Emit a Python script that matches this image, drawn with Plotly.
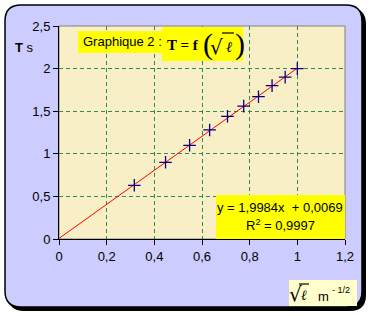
import plotly.graph_objects as go

# data
sqrt_l = [0.316, 0.447, 0.548, 0.632, 0.707, 0.775, 0.837, 0.894, 0.949, 1.0]
T_s = [0.63, 0.90, 1.10, 1.28, 1.44, 1.56, 1.67, 1.80, 1.90, 2.00]
slope = 1.9984
intercept = 0.0069
r2 = 0.9997
trend_x = [0.0, 1.0]
x_ticks = [0, 0.2, 0.4, 0.6, 0.8, 1.0, 1.2]
y_ticks = [0, 0.5, 1.0, 1.5, 2.0, 2.5]

W, H = 373, 316
L, R, TOP, B = 59, 28, 26, 77
PW, PH = W - L - R, H - TOP - B

def px(x):
    return (x - L) / PW

def py(y):
    return (H - B - y) / PH

def rrect(x0, y0, x1, y1, r):
    return (f"M {px(x0+r)} {py(y0)} L {px(x1-r)} {py(y0)} Q {px(x1)} {py(y0)} {px(x1)} {py(y0+r)} "
            f"L {px(x1)} {py(y1-r)} Q {px(x1)} {py(y1)} {px(x1-r)} {py(y1)} "
            f"L {px(x0+r)} {py(y1)} Q {px(x0)} {py(y1)} {px(x0)} {py(y1-r)} "
            f"L {px(x0)} {py(y0+r)} Q {px(x0)} {py(y0)} {px(x0+r)} {py(y0)} Z")

fig = go.Figure()
fig.add_trace(go.Scatter(x=trend_x, y=[slope * v + intercept for v in trend_x], mode="lines",
                         line=dict(color="#FF0000", width=1), hoverinfo="skip"))
fig.add_trace(go.Scatter(x=sqrt_l, y=T_s, mode="markers",
                         marker=dict(symbol="cross-thin", size=9,
                                     line=dict(color="#000080", width=1.3), color="#000080")))

shapes = [
    dict(type="path", xref="paper", yref="paper", path=rrect(8, 8, 366, 311, 16),
         fillcolor="#000000", line=dict(width=0), layer="below"),
    dict(type="path", xref="paper", yref="paper", path=rrect(5, 5, 362, 307, 16),
         fillcolor="#CCCCFF", line=dict(color="#000000", width=1.5), layer="below"),
    dict(type="rect", xref="paper", yref="paper", x0=0, x1=1, y0=0, y1=1,
         fillcolor="#F8EFC6", line=dict(color="#808080", width=1), layer="below"),
    # yellow boxes
    dict(type="rect", xref="paper", yref="paper", x0=px(78), x1=px(163), y0=py(31), y1=py(53),
         fillcolor="#FFFF00", line=dict(width=0)),
    dict(type="rect", xref="paper", yref="paper", x0=px(162), x1=px(243), y0=py(27), y1=py(61),
         fillcolor="#FFFF00", line=dict(width=0)),
    dict(type="rect", xref="paper", yref="paper", x0=px(216), x1=1, y0=py(195), y1=0,
         fillcolor="#FFFF00", line=dict(width=0)),
    dict(type="rect", xref="paper", yref="paper", x0=px(289), x1=px(357), y0=py(280), y1=py(306),
         fillcolor="#FFFFCC", line=dict(width=0)),
    # radical overlines
    dict(type="line", xref="paper", yref="paper", x0=px(222), x1=px(234), y0=py(33), y1=py(33),
         line=dict(color="#000000", width=1.2)),
    dict(type="line", xref="paper", yref="paper", x0=px(299), x1=px(309), y0=py(284), y1=py(284),
         line=dict(color="#000000", width=1.2)),
]

ann = []
def a(x, y, text, size=13, family="Liberation Sans", xanchor="center"):
    ann.append(dict(xref="paper", yref="paper", x=px(x), y=py(y), text=text, showarrow=False,
                    xanchor=xanchor, yanchor="middle", font=dict(family=family, size=size, color="#000000")))

a(13, 47, "<b>T</b> s", xanchor="left")
a(81, 42, "Graphique 2 :", xanchor="left")
a(165, 45, "<b>T = f</b>", size=15, family="Liberation Serif", xanchor="left")
a(208, 44, "(", size=30, family="Liberation Serif")
a(240, 44, ")", size=30, family="Liberation Serif")
a(217, 47, "√", size=20, family="DejaVu Serif")
a(229, 47, "<i>ℓ</i>", size=15, family="DejaVu Serif")
a(280, 207, f"y = {slope:.4f}x  + {intercept:.4f}".replace(".", ","))
a(280, 225, f"R<sup>2</sup> = {r2:.4f}".replace(".", ","))
a(295, 294, "√", size=20, family="DejaVu Serif")
a(304, 295, "<i>ℓ</i>", size=14, family="DejaVu Serif")
a(323, 296, "m", size=13)
a(341, 290, "- 1/2", size=9)

fig.update_layout(
    width=W, height=H, margin=dict(l=L, r=R, t=TOP, b=B),
    paper_bgcolor="#FFFFFF", plot_bgcolor="rgba(0,0,0,0)",
    showlegend=False, separators=", ",
    shapes=shapes, annotations=ann,
    font=dict(family="Liberation Sans", size=13, color="#000000"),
    xaxis=dict(range=[0, 1.2], tickvals=x_ticks, ticktext=["0", "0,2", "0,4", "0,6", "0,8", "1", "1,2"],
               ticks="outside", ticklen=5, tickcolor="#000", showline=True, linecolor="#000", linewidth=1,
               showgrid=True, gridcolor="#2E8B57", griddash="4px,3px", gridwidth=1, zeroline=False,
               fixedrange=True),
    yaxis=dict(range=[0, 2.5], tickvals=y_ticks, ticktext=["0", "0,5", "1", "1,5", "2", "2,5"],
               ticks="outside", ticklen=5, tickcolor="#000", showline=True, linecolor="#000", linewidth=1,
               showgrid=True, gridcolor="#2E8B57", griddash="4px,3px", gridwidth=1, zeroline=False,
               fixedrange=True),
)
fig.write_html("out.html")
